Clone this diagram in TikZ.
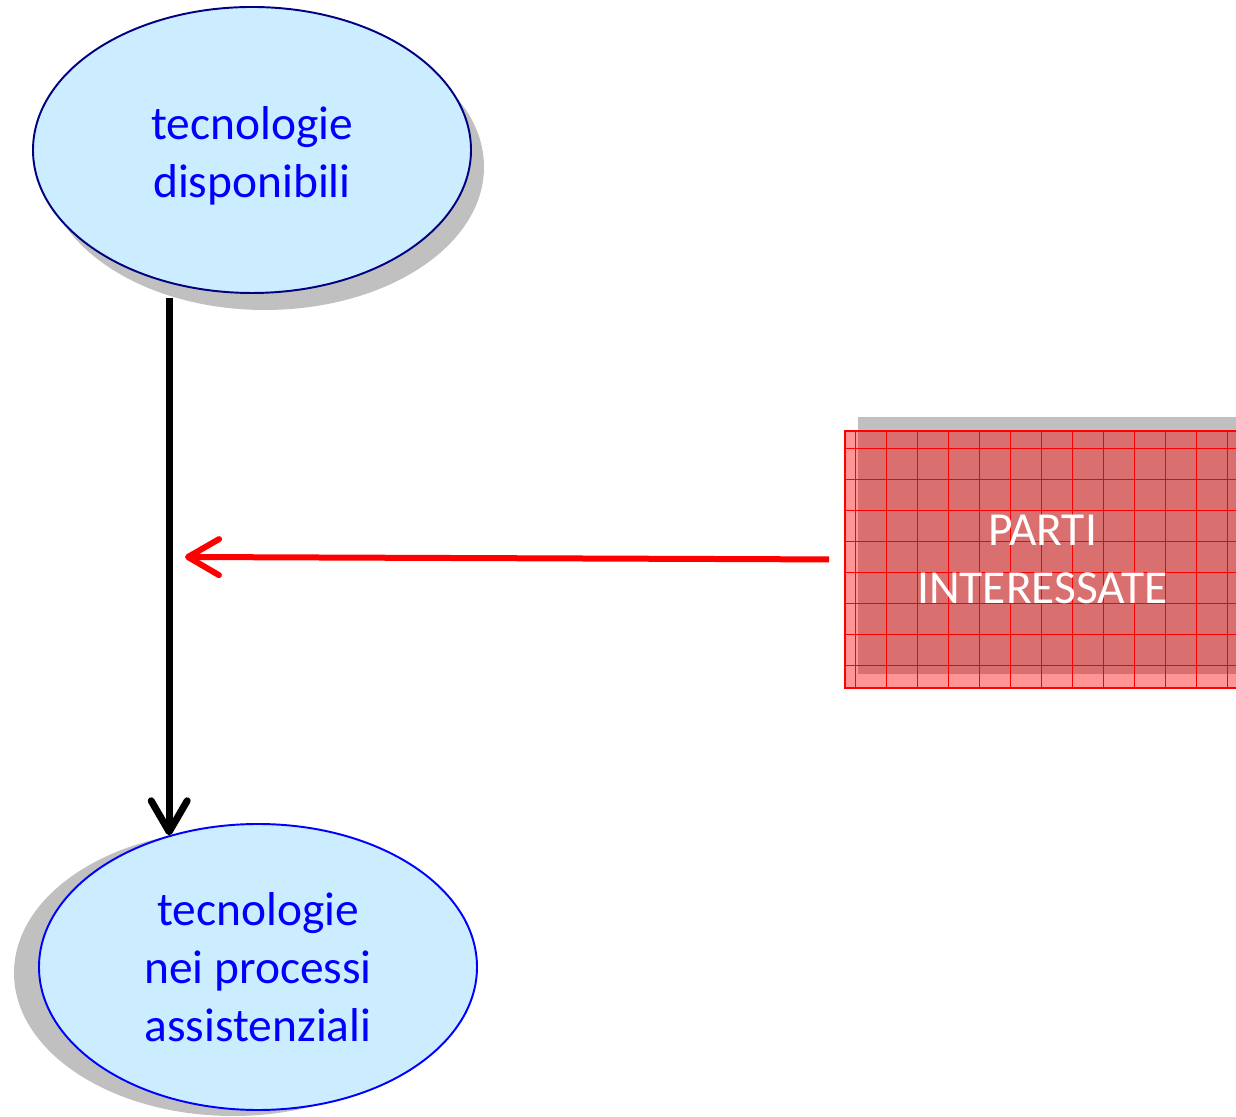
\documentclass[tikz,border=0pt]{standalone}
\usepackage{fontspec}
\setmainfont{Carlito}
\usetikzlibrary{shapes, arrows.meta, shadows, calc, positioning}
\definecolor{ovalfill}{RGB}{204,236,255}
\definecolor{shadowgray}{RGB}{192,192,192}
\definecolor{navyline}{RGB}{0,0,128}

\begin{document}
\begin{tikzpicture}[font=\fontsize{27}{33}\selectfont, align=center,
  oval/.style={ellipse, draw, fill=ovalfill, minimum width=8.76cm,
    minimum height=5.72cm, inner sep=0pt, line width=1.1pt, text=blue},
  gridbox/.style={draw=red, line width=1.1pt, fill=red, fill opacity=0.42,
    text opacity=1, text=white, minimum width=7.9cm, minimum height=5.14cm,
    path picture={\draw[red, line width=0.4pt, opacity=1]
      (path picture bounding box.south west) grid[step=0.62cm]
      (path picture bounding box.north east);}},
  barb/.style={line width=#1, -{Straight Barb[length=0.62cm, width=0.72cm, round]}}]
  \useasboundingbox (0,0) rectangle (24.72,22.32);
  \clip (0,0) rectangle (24.72,22.32);

  \node[oval, draw=navyline, drop shadow={shadow xshift=0.26cm, shadow yshift=-0.34cm,
    fill=shadowgray, opacity=1, fill opacity=1},
    label={[text=blue, yshift=-0.12cm]center:tecnologie\\disponibili}]
    (avail) at (5.04,19.32) {};
  \node[oval, draw=blue, drop shadow={shadow xshift=-0.5cm, shadow yshift=-0.12cm,
    fill=shadowgray, opacity=1, fill opacity=1}] (proc) at (5.16,2.98)
    {tecnologie\\nei processi\\ assistenziali};

  \node[gridbox, drop shadow={shadow xshift=0.26cm, shadow yshift=0.28cm,
    fill=shadowgray, opacity=1, fill opacity=1}] (parti) at (20.85,11.13)
    {PARTI\\INTERESSATE};

  \coordinate (tail) at ($(proc.124 |- avail.south)+(0,-0.08)$);
  \coordinate (hit) at (3.70,11.18);

  \draw[barb=0.14cm, black] (tail) -- (proc.124);
  \draw[barb=0.12cm, red, shorten <=0.3cm] (parti.west) -- (hit);
\end{tikzpicture}
\end{document}
